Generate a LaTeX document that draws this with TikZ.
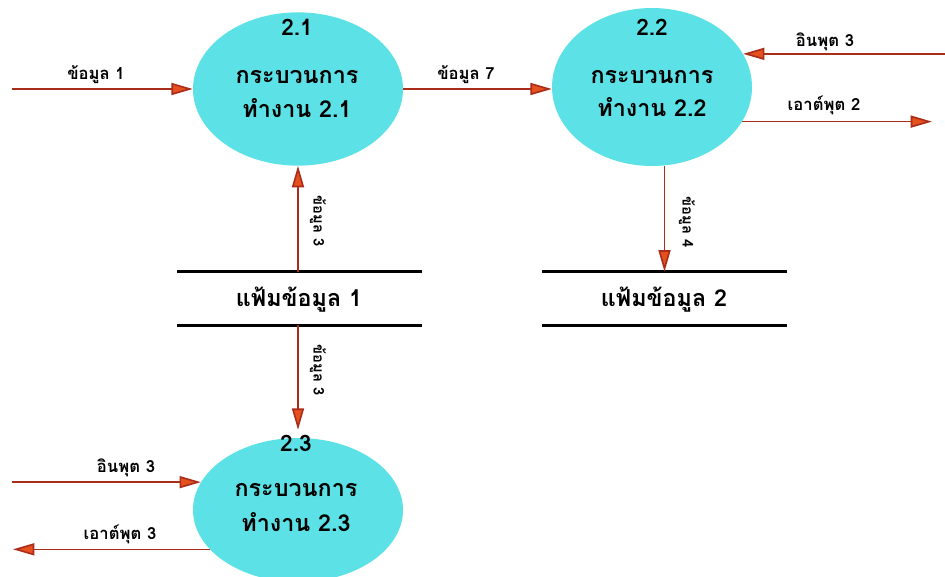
\documentclass[tikz,border=0pt]{standalone}
\usepackage{fontspec}
\setmainfont{Liberation Sans}
\newfontfamily\thai[Script=Thai]{Loma}
\usetikzlibrary{shapes.geometric,arrows.meta,calc}
\definecolor{proc}{RGB}{92,226,230}
\definecolor{flow}{RGB}{170,45,25}
\definecolor{tipc}{RGB}{228,80,30}
\begin{document}
\begin{tikzpicture}[x=0.75pt,y=-0.75pt,
  procnode/.style={ellipse,fill=proc,draw=none,inner sep=0pt},
  storenode/.style={rectangle,draw=none,inner sep=0pt,minimum width=183pt,minimum height=40pt},
  storeline/.style={line width=1.8pt,black},
  flowarr/.style={draw=flow,line width=1.2pt,-{Triangle[length=16pt,width=9pt,fill=tipc]}},
  numtxt/.style={font=\thai\bfseries\fontsize{17}{20}\selectfont,inner sep=0pt},
  proctxt/.style={font=\thai\bfseries\fontsize{17.5}{21}\selectfont,inner sep=0pt},
  storetxt/.style={font=\thai\bfseries\fontsize{17.5}{21}\selectfont,inner sep=0pt},
  lbl/.style={font=\thai\bfseries\fontsize{12.5}{15}\selectfont,inner sep=0pt},
  rlbl/.style={font=\thai\bfseries\fontsize{11}{13}\selectfont,inner sep=0pt,rotate=-90}]
\useasboundingbox (0,0) rectangle (945,577);

% processes
\node[procnode,minimum width=157.5pt,minimum height=115pt] (c21) at (298,89) {};
\node[procnode,minimum width=150pt,minimum height=118.5pt] (c22) at (652,87) {};
\node[procnode,minimum width=157.5pt,minimum height=108pt] (c23) at (298,510) {};

\node[numtxt] (n21) at (297,27) {2.1};
\node[proctxt] (p21a) at (297,77) {กระบวนการ};
\node[proctxt] (p21b) at (297,108) {ทำงาน 2.1};
\node[numtxt] (n22) at (652,27) {2.2};
\node[proctxt] (p22a) at (652,77) {กระบวนการ};
\node[proctxt] (p22b) at (652,107) {ทำงาน 2.2};
\node[numtxt] (n23) at (296,443) {2.3};
\node[proctxt] (p23a) at (296,490) {กระบวนการ};
\node[proctxt] (p23b) at (296,522) {ทำงาน 2.3};

% data stores
\node[storenode] (s1) at (299.5,298.5) {};
\node[storenode] (s2) at (664.5,298.5) {};
\draw[storeline] (s1.north west) -- (s1.north east);
\draw[storeline] (s1.south west) -- (s1.south east);
\draw[storeline] (s2.north west) -- (s2.north east);
\draw[storeline] (s2.south west) -- (s2.south east);
\node[storetxt] (st1) at (299,300) {แฟ้มข้อมูล 1};
\node[storetxt] (st2) at (664,300) {แฟ้มข้อมูล 2};

% free ends
\coordinate (eL) at (12,0);
\coordinate (eLo) at (13,0);
\coordinate (eR) at (945,0);
\coordinate (eRo) at (932,0);

% flows
\draw[flowarr] (c21.west -| eL) -- (c21.west);
\node[lbl] (l1) at (96,75) {ข้อมูล 1};

\draw[flowarr] (c21.east) -- (c21.east -| c22.west);
\node[lbl] (l7) at (466,75) {ข้อมูล 7};

\draw[flowarr] (c22.20 -| eR) -- (c22.20);
\node[lbl] (li2) at (825,42) {อินพุต 3};

\draw[flowarr] (c22.-21) -- (c22.-21 -| eRo);
\node[lbl] (lo2) at (824,105) {เอาต์พุต 2};

\draw[flowarr] (s1.north -| c21.south) -- (c21.south);
\node[rlbl] (l3a) at (318,221) {ข้อมูล 3};

\draw[flowarr,shorten >=6pt] (s1.south -| c23.north) -- (c23.north);
\node[rlbl] (l3b) at (318,370) {ข้อมูล 3};

\draw[flowarr] (c22.south -| s2.north) -- (s2.north);
\node[rlbl] (l4) at (687,222) {ข้อมูล 4};

\draw[flowarr] (c23.164 -| eL) -- (c23.164);
\node[lbl] (li3) at (126,468) {อินพุต 3};

\draw[flowarr] (c23.204) -- (c23.204 -| eLo);
\node[lbl] (lo3) at (120,534) {เอาต์พุต 3};
\end{tikzpicture}
\end{document}
